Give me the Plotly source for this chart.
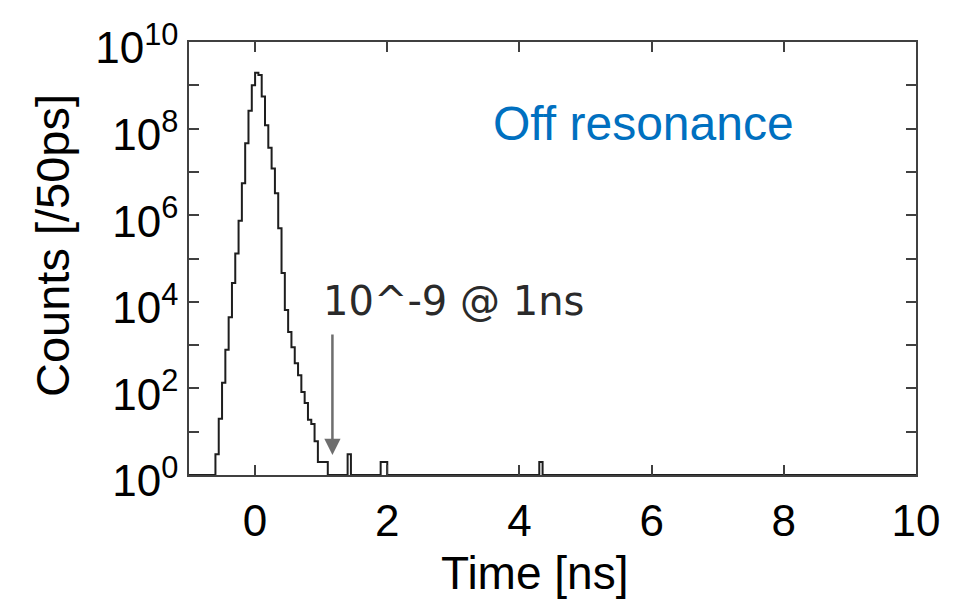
import plotly.graph_objects as go

# histogram: left edge of each 50 ps bin [ns] and counts in that bin
# (a count of 1 sits on the 10^0 baseline, i.e. an empty bin)
time_ns = [-1.0, -0.60, -0.55, -0.50, -0.45, -0.40, -0.35, -0.30, -0.25, -0.20, -0.15, -0.10, -0.05,
           0.00, 0.05, 0.10, 0.15, 0.20, 0.25, 0.30, 0.35, 0.40, 0.45, 0.50, 0.55, 0.60, 0.65,
           0.70, 0.75, 0.80, 0.85, 0.90, 0.95, 1.00, 1.05, 1.10,
           1.40, 1.45, 1.90, 1.95, 2.00, 4.30, 4.35, 10.0]
counts = [1, 3, 20, 135, 780, 4.4e3, 2.7e4, 1.3e5, 7.4e5, 5.5e6, 4.6e7, 2.6e8, 1.0e9,
          1.95e9, 1.74e9, 5.5e8, 1.2e8, 3.6e7, 1.2e7, 3.2e6, 5.0e5, 4.6e4, 6.5e3, 2.0e3, 890, 380, 200,
          83, 46, 19, 15, 6, 2, 2, 2, 1,
          3, 1, 2, 2, 1, 2, 1, 1]

x_ticks = [0, 2, 4, 6, 8, 10]
y_ticks = [10 ** k for k in range(11)]
y_ticktext = ["10<sup>%d</sup>" % k if k % 2 == 0 else "" for k in range(11)]

label_text = "Off resonance"
arrow_text = "10^-9 @ 1ns"

axis_col = "#404040"
font_fam = "Liberation Sans, Arial, sans-serif"

# the page puts the figure 8 px in from the top-left corner, so work in figure pixels
OFF = 8
# plot area in screen pixels: left 189, right 916, top 42, bottom 475
L, R, T, B = 189 - OFF, 916 - OFF, 42 - OFF, 475 - OFF
W, H = R - L, B - T


def px(x):
    return (x - OFF - L) / W


def py(y):
    return (B - (y - OFF)) / H


fig = go.Figure()
fig.add_trace(go.Scatter(x=time_ns, y=counts, mode="lines", line_shape="hv",
                         line=dict(color="#1e1e1e", width=2), showlegend=False))

fig.update_layout(
    width=970, height=607,
    margin=dict(l=L, r=970 - R, t=T, b=607 - B, autoexpand=False),
    paper_bgcolor="#2f3238",
    plot_bgcolor="white",
    font=dict(family=font_fam, color="black"),
    showlegend=False,
)

fig.update_xaxes(range=[-1, 10], tickvals=x_ticks, ticks="inside", ticklen=10, tickwidth=1.5,
                 tickcolor=axis_col, showline=True, linecolor=axis_col, linewidth=1.5, mirror="ticks",
                 showgrid=False, zeroline=False, tickfont=dict(size=44), ticklabelstandoff=6,
                 automargin=False, ticklabeloverflow="allow")
fig.update_yaxes(type="log", range=[0, 10], tickvals=y_ticks, ticktext=y_ticktext, ticks="inside",
                 ticklen=10, tickwidth=1.5, tickcolor=axis_col, showline=True, linecolor=axis_col,
                 linewidth=1.5, mirror="ticks", showgrid=False, zeroline=False,
                 tickfont=dict(size=44), ticklabelstandoff=0, ticklabelshift=6, automargin=False,
                 ticklabeloverflow="allow")

# white slide panel over the dark textured border
fig.add_shape(type="rect", xref="paper", yref="paper", x0=px(7), x1=px(965), y0=py(640), y1=py(5),
              fillcolor="white", line=dict(width=0), layer="below")

# axis titles
fig.add_annotation(text="Time [ns]", xref="paper", yref="paper", x=px(534), y=py(573),
                   showarrow=False, font=dict(size=46), xanchor="center", yanchor="middle")
fig.add_annotation(text="Counts [/50ps]", xref="paper", yref="paper", x=px(52), y=py(246),
                   showarrow=False, textangle=-90, font=dict(size=47), xanchor="center", yanchor="middle")

# labels
fig.add_annotation(text=label_text, x=5.87, y=8.12, showarrow=False,
                   font=dict(size=48, color="#0070c0"), xanchor="center", yanchor="middle")
fig.add_annotation(text=arrow_text, x=1.0, y=4.02, showarrow=False, xanchor="left", yanchor="middle",
                   font=dict(family="DejaVu Sans", size=40, color="#2a2a2a"))
fig.add_annotation(text="", x=1.17, y=0.46, ax=1.17, ay=3.28, axref="x", ayref="y",
                   showarrow=True, arrowhead=2, arrowsize=1.3, arrowwidth=2.5, arrowcolor="#6e6e6e")

fig.write_html("out.html")
